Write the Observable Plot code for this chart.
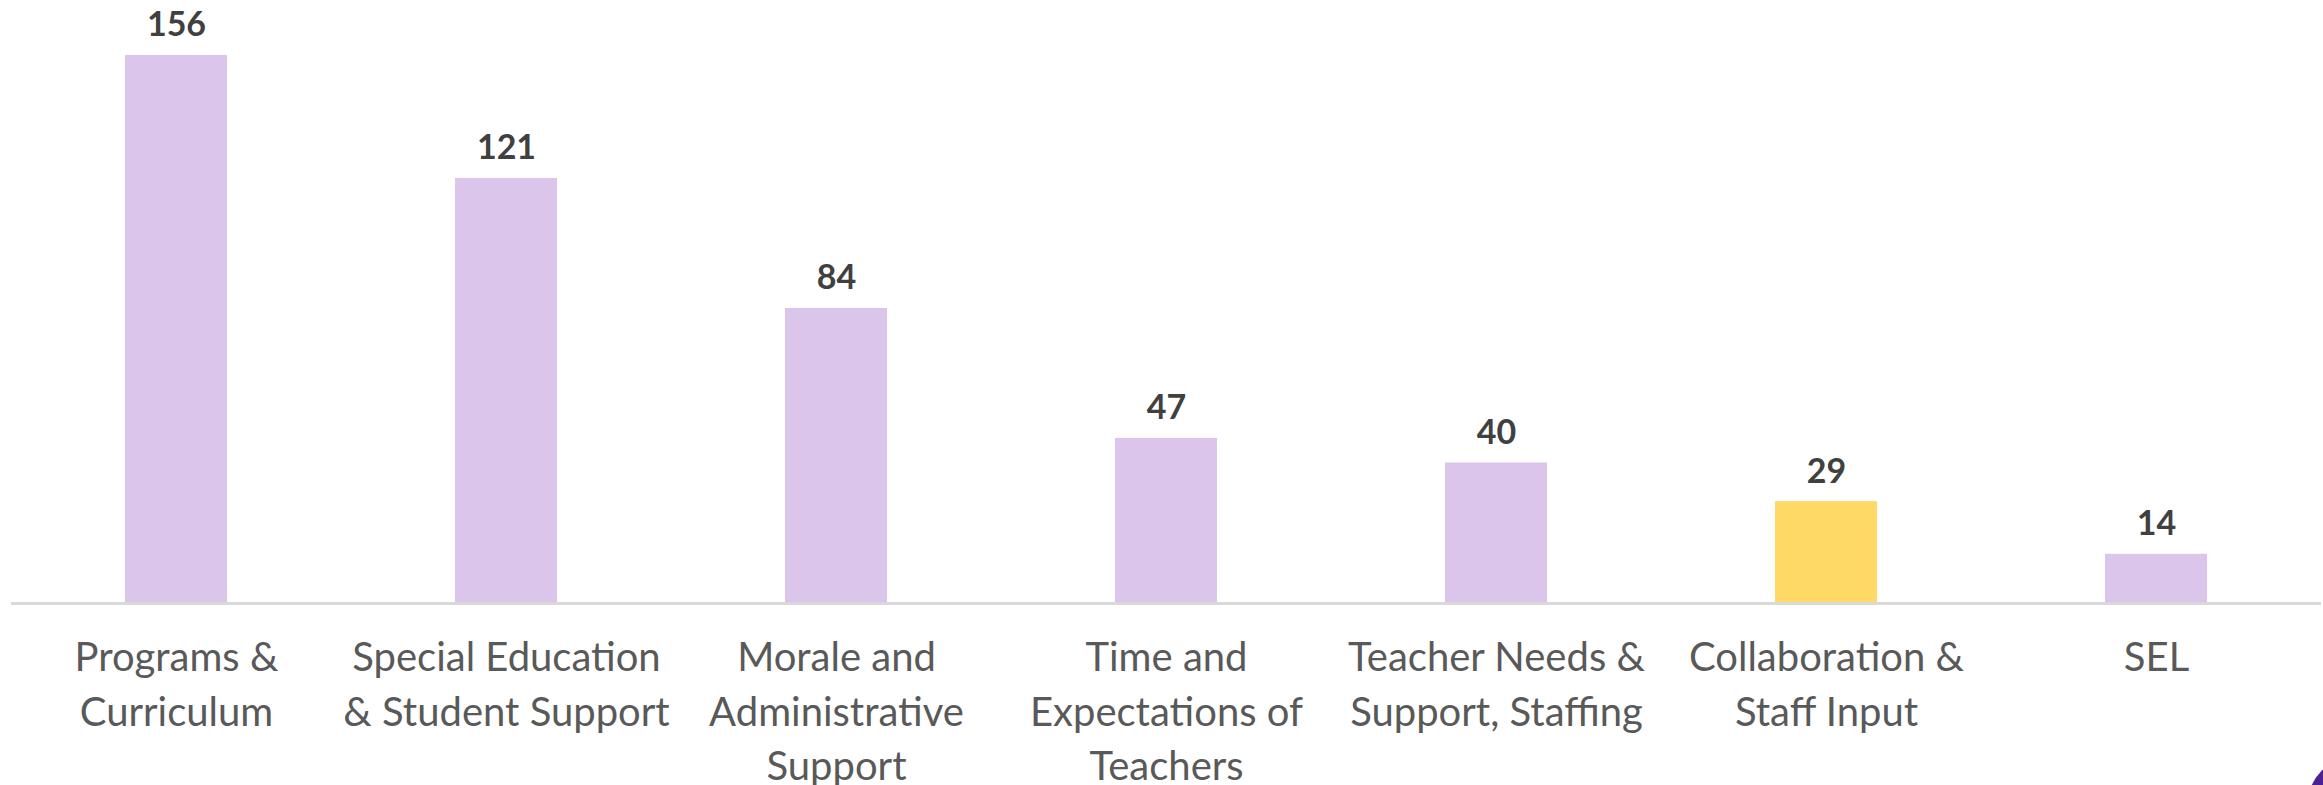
<!DOCTYPE html>
<html>
<head>
<meta charset="utf-8">
<script src="https://cdn.jsdelivr.net/npm/d3@7"></script>
<script src="https://cdn.jsdelivr.net/npm/@observablehq/plot@0.6"></script>
<style>
  html, body { margin: 0; padding: 0; background: #fff; overflow: hidden; }
  #wrap { position: relative; width: 2323px; height: 785px; }
  #logo { position: absolute; left: 2308px; top: 758px; width: 90px; height: 90px; border-radius: 50%; background: #4b2293; }
</style>
</head>
<body>
<div id="wrap"><div id="chart"></div><div id="logo"></div></div>
<script>
const categories = [
  "Programs & Curriculum",
  "Special Education & Student Support",
  "Morale and Administrative Support",
  "Time and Expectations of Teachers",
  "Teacher Needs & Support, Staffing",
  "Collaboration & Staff Input",
  "SEL"
];
const tickLabels = [
  "Programs &\nCurriculum",
  "Special Education\n& Student Support",
  "Morale and\nAdministrative\nSupport",
  "Time and\nExpectations of\nTeachers",
  "Teacher Needs &\nSupport, Staffing",
  "Collaboration &\nStaff Input",
  "SEL"
];
const counts = [156, 121, 84, 47, 40, 29, 14];
const highlighted = ["Collaboration & Staff Input"];

const data = categories.map((c, i) => ({
  category: c,
  label: tickLabels[i],
  count: counts[i],
  highlight: highlighted.includes(c)
}));

const font = "Lato, 'Open Sans', sans-serif";

const chart = Plot.plot({
  width: 2323,
  height: 785,
  marginTop: 55,
  marginBottom: 182,
  marginLeft: 11,
  marginRight: 2,
  style: { fontFamily: font, background: "white" },
  x: { domain: categories, paddingInner: 0.69, paddingOuter: 0.345, axis: null },
  y: { domain: [0, d3.max(counts)], axis: null },
  marks: [
    Plot.barY(data, {
      x: "category",
      y: "count",
      fill: d => d.highlight ? "#ffd966" : "#dbc5eb"
    }),
    Plot.ruleY([0], { stroke: "#d9d9d9", strokeWidth: 3 }),
    Plot.text(data, {
      x: "category",
      y: "count",
      text: d => String(d.count),
      dy: -30,
      fontSize: 34,
      fontWeight: "bold",
      fill: "#404040"
    }),
    Plot.text(data, {
      x: "category",
      y: 0,
      text: "label",
      lineAnchor: "top",
      lineHeight: 1.36,
      dy: 29,
      fontSize: 40,
      fill: "#595959"
    })
  ]
});
document.getElementById("chart").appendChild(chart);
</script>
</body>
</html>
